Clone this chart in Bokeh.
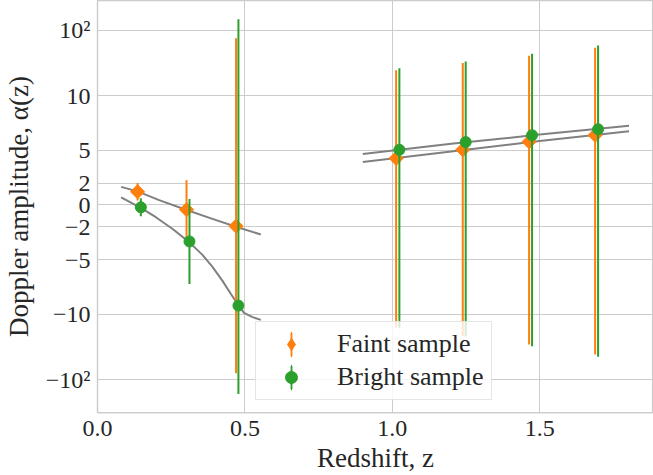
import numpy as np
from bokeh.plotting import figure
from bokeh.models import FixedTicker, Legend, LegendItem, PrintfTickFormatter, Range1d
from bokeh.embed import file_html
from bokeh.resources import INLINE

# ---------------- data ----------------
faint_z = [0.136, 0.302, 0.470, 1.013, 1.239, 1.464, 1.688]
faint_alpha = [1.21, -0.43, -1.94, 4.27, 5.06, 5.79, 6.39]
faint_err = [0.80, 2.70, 77.5, 20.2, 26.5, 34.9, 47.5]

bright_z = [0.147, 0.312, 0.478, 1.024, 1.249, 1.474, 1.698]
bright_alpha = [-0.21, -3.34, -9.21, 5.06, 5.76, 6.39, 6.94]
bright_err = [0.82, 3.90, 156.0, 21.2, 27.7, 37.3, 51.6]

faint_model_low_z = [0.080, 0.136, 0.209, 0.300, 0.390, 0.467, 0.554]
faint_model_low_a = [1.66, 1.25, 0.45, -0.43, -1.27, -1.97, -2.70]
bright_model_low_z = [0.080, 0.147, 0.198, 0.255, 0.311, 0.356, 0.390, 0.424, 0.452,
                      0.478, 0.497, 0.526, 0.554]
bright_model_low_a = [0.70, -0.27, -1.12, -2.20, -3.40, -4.57, -5.66, -6.95, -8.13,
                      -9.17, -9.88, -11.1, -12.2]

faint_model_high_z = [0.900, 1.200, 1.500, 1.803]
faint_model_high_a = [3.94, 4.90, 5.85, 6.75]
bright_model_high_z = [0.900, 1.200, 1.500, 1.803]
bright_model_high_a = [4.66, 5.60, 6.45, 7.25]

y_ticks = [100, 10, 5, 2, 0, -2, -5, -10, -100]
y_tick_labels = ["10\u00b2", "10", "5", "2", "0", "\u22122", "\u22125", "\u221210", "\u221210\u00b2"]
x_ticks = [0.0, 0.5, 1.0, 1.5]

# ---------------- symmetric-log scale ----------------
LINTHRESH = 10.0
LINSCALE = 1.5


def symlog(v):
    v = np.asarray(v, dtype=float)
    adj = LINSCALE / (1.0 - 1.0 / 10.0)
    a = np.abs(v)
    lin = v * adj / LINTHRESH
    log = np.sign(v) * (adj + np.log10(np.maximum(a, 1e-300) / LINTHRESH))
    return np.where(a <= LINTHRESH, lin, log)


ORANGE = "#ff7f0e"
GREEN = "#2ca02c"
GRAY = "#808080"
GRID = "#cccccc"
TXT = "#262626"
FONT = "Liberation Serif"

p = figure(width=653, height=475, output_backend="svg", toolbar_location=None,
           x_range=Range1d(0.0, 1.886), y_range=Range1d(-3.167, 3.121),
           min_border_left=96, min_border_right=0, min_border_top=0, min_border_bottom=60)
p.background_fill_color = "white"
p.border_fill_color = "white"
p.outline_line_color = GRID
p.outline_line_width = 1.25

# model curves
for zz, aa in [(faint_model_low_z, faint_model_low_a), (bright_model_low_z, bright_model_low_a),
               (faint_model_high_z, faint_model_high_a), (bright_model_high_z, bright_model_high_a)]:
    p.line(zz, symlog(aa), line_color=GRAY, line_width=2, line_join="round")

# faint sample
fa = np.array(faint_alpha)
fe = np.array(faint_err)
p.segment(x0=faint_z, y0=symlog(fa - fe), x1=faint_z, y1=symlog(fa + fe),
          line_color=ORANGE, line_width=2)
# legend helpers (hidden under the first point's error bar / marker)
f_bar_key = p.ellipse(x=faint_z[:1], y=symlog(fa[:1]), width=0.1, height=12,
                      width_units="screen", height_units="screen",
                      fill_color=ORANGE, line_color=ORANGE, line_width=2)
f_key = p.scatter(faint_z, symlog(fa), marker="diamond", size=10,
                  fill_color=ORANGE, line_color=ORANGE, line_width=1)
p.scatter(faint_z, symlog(fa), marker="square", angle=np.pi / 4, size=10,
          fill_color=ORANGE, line_color=ORANGE, line_width=1)

# bright sample
ba = np.array(bright_alpha)
be = np.array(bright_err)
p.segment(x0=bright_z, y0=symlog(ba - be), x1=bright_z, y1=symlog(ba + be),
          line_color=GREEN, line_width=2)
b_bar_key = p.ellipse(x=bright_z[:1], y=symlog(ba[:1]), width=0.1, height=12,
                      width_units="screen", height_units="screen",
                      fill_color=GREEN, line_color=GREEN, line_width=2)
b_key = p.scatter(bright_z, symlog(ba), marker="circle", size=11,
                  fill_color=GREEN, line_color=GREEN, line_width=1)

# axes
yt = [float(t) for t in symlog(y_ticks)]
p.yaxis.ticker = FixedTicker(ticks=yt)
p.yaxis.major_label_overrides = {t: lab for t, lab in zip(yt, y_tick_labels)}
p.ygrid.ticker = FixedTicker(ticks=yt)
p.xaxis.ticker = FixedTicker(ticks=x_ticks)
p.xgrid.ticker = FixedTicker(ticks=x_ticks)
p.xaxis.formatter = PrintfTickFormatter(format="%.1f")

for g in (p.xgrid, p.ygrid):
    g.grid_line_color = GRID
    g.grid_line_width = 1
for ax in (p.xaxis, p.yaxis):
    ax.axis_line_color = GRID
    ax.axis_line_width = 1.25
    ax.major_tick_line_color = None
    ax.minor_tick_line_color = None
    ax.major_tick_out = 0
    ax.major_tick_in = 0
    ax.minor_tick_out = 0
    ax.major_label_text_font = FONT
    ax.major_label_text_font_size = "24px"
    ax.major_label_text_color = TXT
    ax.axis_label_text_font = FONT
    ax.axis_label_text_font_size = "27px"
    ax.axis_label_text_font_style = "normal"
    ax.axis_label_text_color = TXT

p.xaxis.axis_label = "Redshift, z"
p.yaxis.axis_label = "Doppler amplitude, \u03b1(z)"
p.xaxis.major_label_standoff = 8
p.xaxis.axis_label_standoff = 4
p.yaxis.major_label_standoff = 7
p.yaxis.axis_label_standoff = 9

legend = Legend(items=[LegendItem(label="Faint sample", renderers=[f_bar_key, f_key]),
                       LegendItem(label="Bright sample", renderers=[b_bar_key, b_key])],
                location=(158, 12), margin=0, padding=7, spacing=3,
                glyph_width=56, glyph_height=30, label_height=30, label_standoff=18,
                label_text_font=FONT, label_text_font_size="26px", label_text_color=TXT,
                border_line_color=GRID, border_line_width=1.25,
                background_fill_color="white", background_fill_alpha=0.8)
p.add_layout(legend)

open("out.html", "w").write(file_html(p, INLINE))
